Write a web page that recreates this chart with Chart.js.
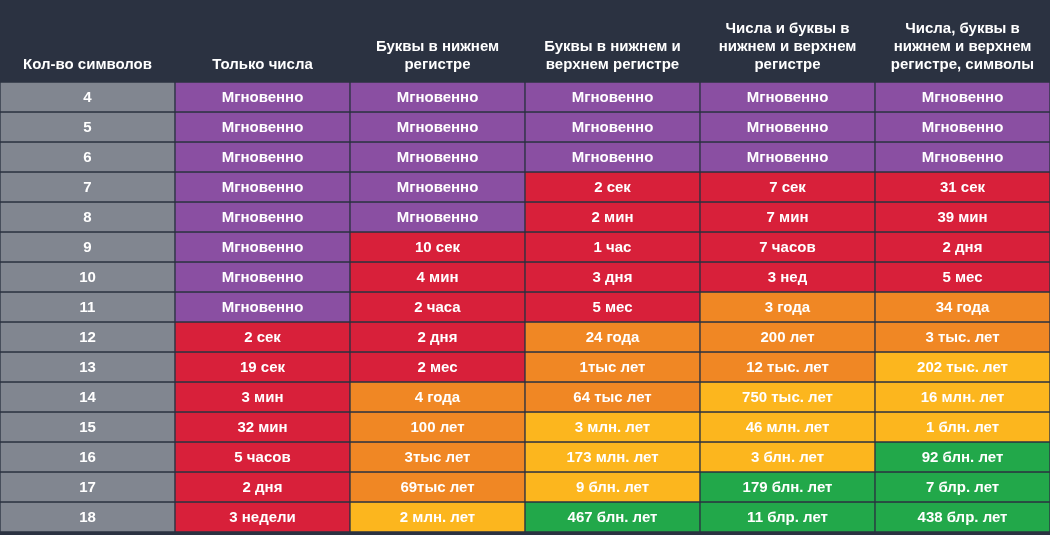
<!DOCTYPE html>
<html><head><meta charset="utf-8">
<script src="https://cdn.jsdelivr.net/npm/chart.js@4/dist/chart.umd.min.js"></script>
<style>
html,body{margin:0;padding:0;background:#2b3241;}
#wrap{width:1050px;height:535px;}
</style></head>
<body><div id="wrap"><canvas id="c"></canvas></div>
<script>
const headers = [
    ["Кол-во символов"],
    ["Только числа"],
    ["Буквы в нижнем", "регистре"],
    ["Буквы в нижнем и", "верхнем регистре"],
    ["Числа и буквы в", "нижнем и верхнем", "регистре"],
    ["Числа, буквы в", "нижнем и верхнем", "регистре, символы"],
];
const lengths = ["4", "5", "6", "7", "8", "9", "10", "11", "12", "13", "14", "15", "16", "17", "18"];
const M = "Мгновенно";
const onlyDigits = [M, M, M, M, M, M, M, M, "2 сек", "19 сек", "3 мин", "32 мин", "5 часов", "2 дня", "3 недели"];
const lower = [M, M, M, M, M, "10 сек", "4 мин", "2 часа", "2 дня", "2 мес", "4 года", "100 лет", "3тыс лет", "69тыс лет", "2 млн. лет"];
const upperLower = [M, M, M, "2 сек", "2 мин", "1 час", "3 дня", "5 мес", "24 года", "1тыс лет", "64 тыс лет", "3 млн. лет", "173 млн. лет", "9 блн. лет", "467 блн. лет"];
const digitsLetters = [M, M, M, "7 сек", "7 мин", "7 часов", "3 нед", "3 года", "200 лет", "12 тыс. лет", "750 тыс. лет", "46 млн. лет", "3 блн. лет", "179 блн. лет", "11 блр. лет"];
const allChars = [M, M, M, "31 сек", "39 мин", "2 дня", "5 мес", "34 года", "3 тыс. лет", "202 тыс. лет", "16 млн. лет", "1 блн. лет", "92 блн. лет", "7 блр. лет", "438 блр. лет"];
// levels: 0 instant, 1 red, 2 orange, 3 yellow, 4 green
const lvlDigits = [0,0,0,0,0,0,0,0,1,1,1,1,1,1,1];
const lvlLower = [0,0,0,0,0,1,1,1,1,1,2,2,2,2,3];
const lvlUpperLower = [0,0,0,1,1,1,1,1,2,2,2,3,3,3,4];
const lvlDigitsLetters = [0,0,0,1,1,1,1,2,2,2,3,3,3,4,4];
const lvlAll = [0,0,0,1,1,1,1,2,2,3,3,3,4,4,4];

const levelColors = ["#8a4fa2", "#d8203a", "#f08724", "#fcb61e", "#22a84a"];
const firstColColor = "#818690";

const textCols = [lengths, onlyDigits, lower, upperLower, digitsLetters, allChars];
const lvlCols = [null, lvlDigits, lvlLower, lvlUpperLower, lvlDigitsLetters, lvlAll];

const datasets = lengths.map((_, r) => ({
    data: headers.map(() => [r, r + 1]),
    backgroundColor: lvlCols.map((l) => (l ? levelColors[l[r]] : firstColColor)),
    borderColor: "#2b3241",
    borderWidth: 1,
    borderSkipped: false,
    barPercentage: 1,
    categoryPercentage: 1,
    texts: textCols.map((c) => c[r]),
}));

const cellText = {
    id: "cellText",
    afterDatasetsDraw(chart) {
        const ctx = chart.ctx;
        ctx.save();
        ctx.fillStyle = "#ffffff";
        ctx.font = "bold 15px 'Liberation Sans', Arial, sans-serif";
        ctx.textAlign = "center";
        ctx.textBaseline = "middle";
        chart.data.datasets.forEach((ds, i) => {
            chart.getDatasetMeta(i).data.forEach((el, j) => {
                ctx.fillText(ds.texts[j], el.x, (el.y + el.base) / 2 + 1);
            });
        });
        ctx.restore();
    },
};

new Chart(document.getElementById("c"), {
    type: "bar",
    data: { labels: headers, datasets },
    options: {
        responsive: true,
        maintainAspectRatio: false,
        animation: false,
        layout: { padding: { left: 0, right: 0, top: 0, bottom: 3 } },
        plugins: { legend: { display: false }, tooltip: { enabled: false } },
        scales: {
            x: {
                position: "top",
                stacked: true,
                grid: { display: false },
                border: { display: false },
                ticks: {
                    color: "#ffffff",
                    font: { family: "'Liberation Sans', Arial, sans-serif", size: 15, weight: "bold", lineHeight: 1.2 },
                    maxRotation: 0,
                    autoSkip: false,
                    padding: 0,
                },
                afterFit: (axis) => { axis.height = 82; },
            },
            y: { display: false, min: 0, max: 15, reverse: true },
        },
    },
    plugins: [cellText],
});
</script></body></html>
